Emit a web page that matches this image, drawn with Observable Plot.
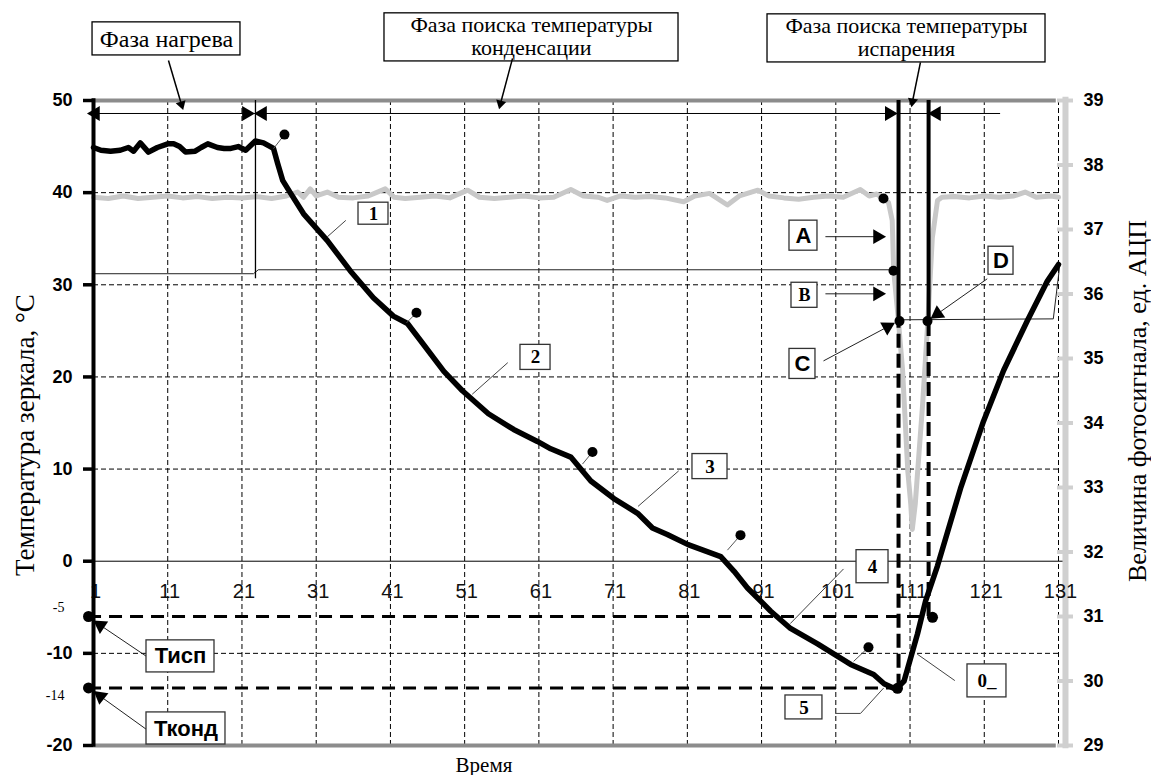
<!DOCTYPE html>
<html><head><meta charset="utf-8">
<script src="https://cdn.jsdelivr.net/npm/d3@7"></script>
<script src="https://cdn.jsdelivr.net/npm/@observablehq/plot@0.6"></script>
<style>body{margin:0;background:#fff}svg{display:block}</style>
</head><body><div id="chart"></div>
<script>
// ---- axes / ticks ----
const timeTicks = [1, 11, 21, 31, 41, 51, 61, 71, 81, 91, 101, 111, 121, 131];
const tempTicks = [50, 40, 30, 20, 10, 0, -10, -20];
const photoTicks = [29, 30, 31, 32, 33, 34, 35, 36, 37, 38, 39];
const gridTemps = [40, 30, 20, 10, -10];

// ---- mirror temperature (left axis, °C) ----
const tempTime = [1,2,3.3,4.6,5.7,6.4,7.3,8.4,9.6,11,11.8,12.6,13.4,14.7,15.5,16.4,17.7,18.6,19.5,20.5,21.5,22.8,23.9,25.25,25.8,26.5,27.5,29.3,32.5,35.6,38.7,41.4,43.3,45.1,48.2,50.7,54.2,57.6,60.8,62.6,65.3,68,71.1,74.3,76.3,78.3,81.1,85.5,87.3,89.1,92.2,94.9,98.6,103,106.1,107.5,109.1,110.2,112,113.1,114.7,117.8,120.9,123.6,126.8,129.5,131];
const tempValue = [44.9,44.6,44.5,44.6,44.9,44.5,45.4,44.4,44.9,45.3,45.3,45.0,44.4,44.5,44.9,45.3,44.9,44.8,44.8,45.0,44.6,45.6,45.4,44.8,43.2,41.3,40.0,37.7,34.8,31.5,28.6,26.6,25.8,23.9,20.6,18.5,16.0,14.3,13.0,12.2,11.3,8.7,6.8,5.2,3.6,2.9,1.8,0.5,-1.1,-2.9,-5.4,-7.3,-9.0,-11.2,-12.3,-13.3,-13.9,-13.0,-7.9,-4.3,-0.5,7.9,15.2,20.7,26.1,30.4,32.2];

// ---- photo signal (right axis, ADC units) ----
const photoTime = [1,3,5,7,9,11,13,15,17,19,21,23,25,27,28.5,29.3,30.2,31,32.5,34,36,38,40.3,41.5,43,45,47,49,51.4,53,55,57,59,61,63,65.3,67,69,70.2,72,74,76,78,80.5,82,84,86.4,88,90.5,92,94,96,98,100,102,104.3,105.5,106.5,107.5,108.1,108.6,108.8,109.4,110,110.7,111.1,111.3,111.7,112.7,113.4,114,114.7,115.3,117,119,121,123,125,126.5,128,130,131];
const photoValue = [37.50,37.48,37.52,37.48,37.50,37.52,37.49,37.51,37.48,37.50,37.49,37.51,37.48,37.52,37.58,37.50,37.63,37.52,37.58,37.50,37.49,37.52,37.63,37.50,37.48,37.50,37.52,37.49,37.61,37.50,37.48,37.50,37.52,37.49,37.50,37.62,37.52,37.50,37.45,37.52,37.50,37.51,37.49,37.43,37.52,37.56,37.38,37.52,37.61,37.52,37.49,37.47,37.50,37.52,37.50,37.62,37.52,37.55,37.47,37.42,37.14,36.36,35.63,34.81,33.25,32.74,32.35,32.74,34.30,35.58,36.87,37.45,37.50,37.51,37.49,37.52,37.50,37.52,37.58,37.50,37.52,37.50];

// ---- thin control line (left axis) ----
const controlTime = [1, 22.55, 23.2, 108.8, 109.6, 130.3, 131.2];
const controlValue = [31.2, 31.2, 31.63, 31.63, 26.2, 26.3, 32.3];

// ---- marked points on the temperature curve, with leader ends ----
const markerTime = [26.73, 44.51, 68.22, 88.16, 105.40];
const markerValue = [46.30, 26.96, 11.85, 2.83, -9.35];
const leaderTime = [25.25, 43.17, 66.87, 86.4, 103.4];
const leaderValue = [44.78, 25.87, 10.54, 1.2, -10.87];

// ---- marked points on the photo signal (A, B, C, D) ----
const photoPointTime = [107.42, 108.77, 109.58, 113.35];
const photoPointValue = [37.48, 36.36, 35.58, 35.58];

// ---- phases and thresholds ----
const heatEnd = 22.82, condEnd = 109.45, evapEnd = 113.5;
const evapTemp = -6.0, condTemp = -13.75, switchTemp = 26.1, minTemp = -13.8;
const smallTempLabels = ["-5", "-14"];
const smallTempLabelY = [-5, -14.6];

// ---- annotation boxes ----
const phaseBoxes = [
  {x1: 0.87, x2: 20.8, y1: 54.89, y2: 58.48},
  {x1: 40.2, x2: 79.81, y1: 54.24, y2: 59.46},
  {x1: 91.8, x2: 129.25, y1: 54.13, y2: 59.35}
];
const phaseTexts = [
  {x: 10.83, y: 56.68, t: "Фаза нагрева", s: 24},
  {x: 60.0, y: 58.15, t: "Фаза поиска температуры", s: 22},
  {x: 60.0, y: 55.65, t: "конденсации", s: 22},
  {x: 110.52, y: 58.04, t: "Фаза поиска температуры", s: 22},
  {x: 110.52, y: 55.54, t: "испарения", s: 22}
];
const phaseArrows = [
  {x1: 11.1, y1: 54.35, x2: 12.85, y2: 49.57, hx: 12.85, hy: 49.57, rot: 163},
  {x1: 57.45, y1: 54.57, x2: 55.83, y2: 49.67, hx: 55.83, hy: 49.67, rot: 194},
  {x1: 112.4, y1: 54.13, x2: 111.33, y2: 49.89, hx: 111.33, hy: 49.89, rot: 190}
];
const dimLineY = 48.59, dimLineEnd = 123.2;
const dimHeads = [{x: 1.27, r: -90}, {x: 21.6, r: 90}, {x: 23.77, r: -90}, {x: 108.2, r: 90}, {x: 114.56, r: -90}];

const stepBoxes = [
  {x1: 36.7, x2: 40.74, y1: 36.52, y2: 38.91, x: 38.72, y: 37.72, t: "1"},
  {x1: 58.52, x2: 62.57, y1: 20.76, y2: 23.48, x: 60.54, y: 22.12, t: "2"},
  {x1: 81.69, x2: 86.41, y1: 8.91, y2: 11.63, x: 84.05, y: 10.27, t: "3"},
  {x1: 103.79, x2: 108.1, y1: -2.39, y2: 1.2, x: 105.94, y: -0.6, t: "4"},
  {x1: 94.22, x2: 99.2, y1: -17.17, y2: -14.57, x: 96.71, y: -15.87, t: "5"}
];
const zeroBox = {x1: 118.74, x2: 123.99, y1: -14.78, y2: -11.2, x: 121.37, y: -12.99, t: "0_"};
const stepLeaders = [
  [[34.95, 36.96], [32.52, 35.22]],
  [[56.77, 21.52], [52.06, 18.15]],
  [[79.8, 9.78], [74.4, 5.98]],
  [[102.0, -0.87], [94.9, -6.74]],
  [[100.96, -16.52], [104.33, -16.52], [107.4, -13.8]],
  [[116.99, -12.93], [112.0, -10.1]]
];
const letterBoxes = [
  {x1: 94.76, x2: 98.53, y1: 33.7, y2: 36.96, x: 96.65, y: 35.33, t: "A", serif: false},
  {x1: 95.03, x2: 98.53, y1: 27.5, y2: 30.22, x: 96.78, y: 28.86, t: "B", serif: true},
  {x1: 94.76, x2: 98.26, y1: 19.78, y2: 23.04, x: 96.51, y: 21.41, t: "C", serif: false},
  {x1: 121.57, x2: 124.94, y1: 31.09, y2: 34.13, x: 123.25, y: 32.61, t: "D", serif: false},
  {x1: 8.14, x2: 17.3, y1: -12.07, y2: -8.59, x: 12.72, y: -10.33, t: "Тисп", serif: false},
  {x1: 8.14, x2: 18.78, y1: -19.89, y2: -16.41, x: 13.46, y: -18.15, t: "Тконд", serif: false}
];
const letterArrows = [
  {x1: 99.6, y1: 35.22, x2: 106.62, y2: 35.22, rot: 90},
  {x1: 99.6, y1: 29.02, x2: 106.62, y2: 29.02, rot: 90},
  {x1: 99.34, y1: 21.74, x2: 107.96, y2: 25.43, rot: 61.5},
  {x1: 121.4, y1: 30.65, x2: 114.7, y2: 26.85, rot: -125},
  {x1: 8.14, y1: -10.33, x2: 1.94, y2: -6.96, rot: -56},
  {x1: 8.14, y1: -18.26, x2: 1.94, y2: -14.67, rot: -52}
];

// ---- build ----
const toLeft = v => -20 + (v - 29) * 7;
const temp = tempTime.map((x, i) => ({x, y: tempValue[i]}));
const photo = photoTime.map((x, i) => ({x, y: toLeft(photoValue[i])}));
const control = controlTime.map((x, i) => ({x, y: controlValue[i]}));
const markers = markerTime.map((x, i) => ({x, y: markerValue[i], lx: leaderTime[i], ly: leaderValue[i]}));
const photoPoints = photoPointTime.map((x, i) => ({x, y: toLeft(photoPointValue[i])}));
const extraDots = [
  {x: 0.33, y: evapTemp}, {x: 0.33, y: condTemp}, {x: 114.03, y: evapTemp - 0.09}, {x: 109.31, y: minTemp}
];
const leaderSegs = stepLeaders.flatMap((pts, k) => pts.map(p => ({x: p[0], y: p[1], k})));

const SANS = "'Liberation Sans', Arial, sans-serif";
const SERIF = "'Liberation Serif', 'Times New Roman', 'DejaVu Serif', serif";
const rightX = 131.94;

const plot = Plot.plot({
  width: 1151, height: 775,
  marginLeft: 93, marginRight: 93, marginTop: 100, marginBottom: 30,
  x: {domain: [1, 131], axis: null},
  y: {domain: [-20, 50], axis: null},
  style: {background: "white", overflow: "visible"},
  marks: [
    // grid
    Plot.ruleX(timeTicks.slice(1), {y1: -20, y2: 50, stroke: "black", strokeWidth: 1, strokeDasharray: "5,3"}),
    Plot.ruleY(gridTemps, {x1: 1, x2: 131, stroke: "black", strokeWidth: 1, strokeDasharray: "5,3"}),
    Plot.ruleY([0], {x1: 1, x2: 131.7, stroke: "black", strokeWidth: 1}),
    // borders
    Plot.ruleY([50, -20], {x1: 1, x2: 130.7, stroke: "#8c8c8c", strokeWidth: 4}),
    // right axis
    Plot.ruleX([rightX], {y1: toLeft(28.95), y2: toLeft(39.05), stroke: "#d0d0d0", strokeWidth: 6}),
    Plot.ruleY(photoTicks, {y: d => toLeft(d), x1: 130.86, x2: 133.02, stroke: "#d0d0d0", strokeWidth: 4}),
    Plot.text(photoTicks, {x: 134.37, y: d => toLeft(d), text: d => String(d), textAnchor: "start", fontSize: 18, fontWeight: "bold", fontFamily: SANS, fill: "black"}),
    // x tick labels
    Plot.text(timeTicks, {x: d => d, y: 0, dx: 2, dy: 30, text: d => String(d), fontSize: 20, fontFamily: SANS, fill: "#111"}),
    // control line
    Plot.line(control, {x: "x", y: "y", stroke: "#222", strokeWidth: 1}),
    // photo signal
    Plot.line(photo, {x: "x", y: "y", stroke: "#c8c8c8", strokeWidth: 5, strokeLinejoin: "round"}),
    // thresholds and phase lines
    Plot.ruleY([evapTemp], {x1: 0.33, x2: 114.0, stroke: "black", strokeWidth: 3, strokeDasharray: "13,8"}),
    Plot.ruleY([condTemp], {x1: 0.33, x2: 109.4, stroke: "black", strokeWidth: 3, strokeDasharray: "13,8"}),
    Plot.ruleX([heatEnd], {y1: 30.65, y2: 50, stroke: "black", strokeWidth: 1.3}),
    Plot.ruleX([condEnd, evapEnd], {y1: switchTemp, y2: 50, stroke: "black", strokeWidth: 4}),
    Plot.ruleX([condEnd], {y1: minTemp, y2: switchTemp, stroke: "black", strokeWidth: 4, strokeDasharray: "14,6"}),
    Plot.ruleX([evapEnd], {y1: evapTemp, y2: switchTemp, stroke: "black", strokeWidth: 4, strokeDasharray: "14,6"}),
    // temperature curve
    Plot.line(temp, {x: "x", y: "y", stroke: "black", strokeWidth: 5.5, strokeLinejoin: "round", strokeLinecap: "round"}),
    // markers and leaders
    Plot.link(markers, {x1: "x", y1: "y", x2: "lx", y2: "ly", stroke: "#555", strokeWidth: 1}),
    Plot.dot(markers, {x: "x", y: "y", r: 5, fill: "black"}),
    Plot.dot(photoPoints, {x: "x", y: "y", r: 5, fill: "black"}),
    Plot.dot(extraDots, {x: "x", y: "y", r: 5.5, fill: "black"}),
    // left axis
    Plot.ruleX([1], {y1: -20.2, y2: 50.2, stroke: "black", strokeWidth: 4}),
    Plot.ruleY(tempTicks, {x1: -0.35, x2: 1, stroke: "black", strokeWidth: 3.5}),
    Plot.text(tempTicks, {x: 1, y: d => d, dx: -21, text: d => String(d), textAnchor: "end", fontSize: 18, fontWeight: "bold", fontFamily: SANS, fill: "black"}),
    Plot.text(smallTempLabels, {x: 1, y: smallTempLabelY, dx: -29, textAnchor: "end", fontSize: 14, fontFamily: SERIF, fill: "black"}),
    // dimension line with arrowheads
    Plot.ruleY([dimLineY], {x1: 1, x2: dimLineEnd, stroke: "black", strokeWidth: 1}),
    Plot.dot(dimHeads, {x: "x", y: dimLineY, symbol: "triangle", r: 5.5, fill: "black", rotate: "r"}),
    // phase annotation boxes
    Plot.rect(phaseBoxes, {x1: "x1", x2: "x2", y1: "y1", y2: "y2", fill: "white", stroke: "black", strokeWidth: 1.3}),
    Plot.text(phaseTexts, {x: "x", y: "y", text: "t", fontSize: "s", fontFamily: SERIF, fill: "black"}),
    Plot.link(phaseArrows, {x1: "x1", y1: "y1", x2: "x2", y2: "y2", stroke: "black", strokeWidth: 1.5}),
    Plot.dot(phaseArrows, {x: "hx", y: "hy", symbol: "triangle", r: 3.8, fill: "black", rotate: "rot"}),
    // step labels
    Plot.line(leaderSegs, {x: "x", y: "y", z: "k", stroke: "#444", strokeWidth: 1}),
    Plot.rect(stepBoxes.concat([zeroBox]), {x1: "x1", x2: "x2", y1: "y1", y2: "y2", fill: "white", stroke: "#333", strokeWidth: 1.3}),
    Plot.text(stepBoxes, {x: "x", y: "y", text: "t", fontSize: 19, fontWeight: "bold", fontFamily: SERIF, fill: "black", ariaLabel: "step-labels"}),
    Plot.text([zeroBox], {x: "x", y: "y", text: "t", fontSize: 19, fontWeight: "bold", fontFamily: SERIF, fill: "black"}),
    // letter labels
    Plot.link(letterArrows, {x1: "x1", y1: "y1", x2: "x2", y2: "y2", stroke: "#222", strokeWidth: 1}),
    Plot.dot(letterArrows, {x: "x2", y: "y2", symbol: "triangle", r: 5.5, fill: "black", rotate: "rot"}),
    Plot.rect(letterBoxes, {x1: "x1", x2: "x2", y1: "y1", y2: "y2", fill: "white", stroke: "#333", strokeWidth: 1.3}),
    Plot.text(letterBoxes.filter(d => !d.serif), {x: "x", y: "y", text: "t", fontSize: 22, fontWeight: "bold", fontFamily: SANS, fill: "black"}),
    Plot.text(letterBoxes.filter(d => d.serif), {x: "x", y: "y", text: "t", fontSize: 18, fontWeight: "bold", fontFamily: SERIF, fill: "black"}),
    // axis titles
    Plot.text(["Температура зеркала, °С"], {frameAnchor: "left", dx: -68, dy: 12, rotate: -90, textAnchor: "middle", lineAnchor: "middle", fontSize: 27, fontFamily: SERIF, fill: "black"}),
    Plot.text(["Величина фотосигнала, ед. АЦП"], {frameAnchor: "right", dx: 79, dy: -22, rotate: -90, textAnchor: "middle", lineAnchor: "middle", fontSize: 26, fontFamily: SERIF, fill: "black"}),
    Plot.text(["Время"], {frameAnchor: "bottom", dx: -92, dy: 20, textAnchor: "middle", lineAnchor: "middle", fontSize: 21, fontFamily: SERIF, fill: "black"})
  ]
});
document.getElementById("chart").append(plot);
plot.querySelectorAll('g[aria-label="step-labels"] text').forEach(t => t.style.textDecoration = "underline");
</script>
</body></html>
